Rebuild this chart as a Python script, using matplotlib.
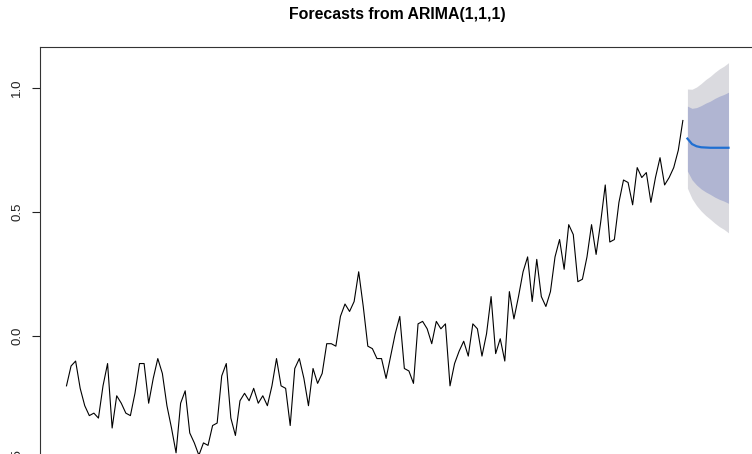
import matplotlib
matplotlib.use("Agg")
import matplotlib.pyplot as plt
import numpy as np

plt.rcParams['font.family'] = ['Liberation Sans', 'DejaVu Sans']

# annual global temperature anomaly, 1880-2015
years = list(range(1880, 2016))
temps = [-0.20, -0.12, -0.10, -0.21, -0.28, -0.32, -0.31, -0.33, -0.20, -0.11,
         -0.37, -0.24, -0.27, -0.31, -0.32, -0.23, -0.11, -0.11, -0.27, -0.17,
         -0.09, -0.15, -0.28, -0.37, -0.47, -0.27, -0.22, -0.39, -0.43, -0.48,
         -0.43, -0.44, -0.36, -0.35, -0.16, -0.11, -0.33, -0.40, -0.26, -0.23,
         -0.26, -0.21, -0.27, -0.24, -0.28, -0.20, -0.09, -0.20, -0.21, -0.36,
         -0.13, -0.09, -0.17, -0.28, -0.13, -0.19, -0.15, -0.03, -0.03, -0.04,
         0.08, 0.13, 0.10, 0.14, 0.26, 0.12, -0.04, -0.05, -0.09, -0.09,
         -0.17, -0.08, 0.01, 0.08, -0.13, -0.14, -0.19, 0.05, 0.06, 0.03,
         -0.03, 0.06, 0.03, 0.05, -0.20, -0.11, -0.06, -0.02, -0.08, 0.05,
         0.03, -0.08, 0.01, 0.16, -0.07, -0.01, -0.10, 0.18, 0.07, 0.16,
         0.26, 0.32, 0.14, 0.31, 0.16, 0.12, 0.18, 0.32, 0.39, 0.27,
         0.45, 0.41, 0.22, 0.23, 0.32, 0.45, 0.33, 0.46, 0.61, 0.38,
         0.39, 0.54, 0.63, 0.62, 0.53, 0.68, 0.64, 0.66, 0.54, 0.64,
         0.72, 0.61, 0.64, 0.68, 0.75, 0.87]

# forecasts 2016-2025
fc_years = list(range(2016, 2026))
fc_mean = [0.797, 0.775, 0.766, 0.762, 0.761, 0.760, 0.760, 0.760, 0.760, 0.760]
hi80 = [0.928, 0.919, 0.922, 0.930, 0.940, 0.948, 0.959, 0.968, 0.975, 0.984]
lo80 = [0.666, 0.631, 0.610, 0.594, 0.582, 0.572, 0.561, 0.552, 0.545, 0.536]
hi95 = [0.997, 0.996, 1.005, 1.019, 1.035, 1.048, 1.064, 1.078, 1.089, 1.103]
lo95 = [0.597, 0.555, 0.527, 0.505, 0.487, 0.472, 0.456, 0.442, 0.431, 0.417]

fig = plt.figure(figsize=(7.52, 4.54), dpi=100)
# plot box runs past the right and bottom edges of the picture
W, H = 752, 454
ax = fig.add_axes([40 / W, 1 - 471 / H, 715 / W, 424 / H])

ax.fill_between(fc_years, lo95, hi95, color='#dadadf', lw=0)
ax.fill_between(fc_years, lo80, hi80, color='#b0b5d2', lw=0)
ax.plot(fc_years, fc_mean, color='#1f6fd2', lw=1.6)
ax.plot(years, temps, color='black', lw=0.8)

ax.margins(x=0.04, y=0.04)
ax.set_yticks([-0.5, 0.0, 0.5, 1.0])
ax.set_yticklabels(['-0.5', '0.0', '0.5', '1.0'], rotation=90, va='center')
ax.set_xticks([1880, 1900, 1920, 1940, 1960, 1980, 2000, 2020])
ax.tick_params(axis='both', length=6, width=0.8, labelsize=9.5, pad=6, colors='#222222')
for s in ax.spines.values():
    s.set_linewidth(0.8)
    s.set_color('#333333')

fig.text(397 / W, 1 - 15 / H, 'Forecasts from ARIMA(1,1,1)', ha='center', va='center',
         fontsize=11.4, fontweight='bold')

fig.savefig('out.png', dpi=100)
